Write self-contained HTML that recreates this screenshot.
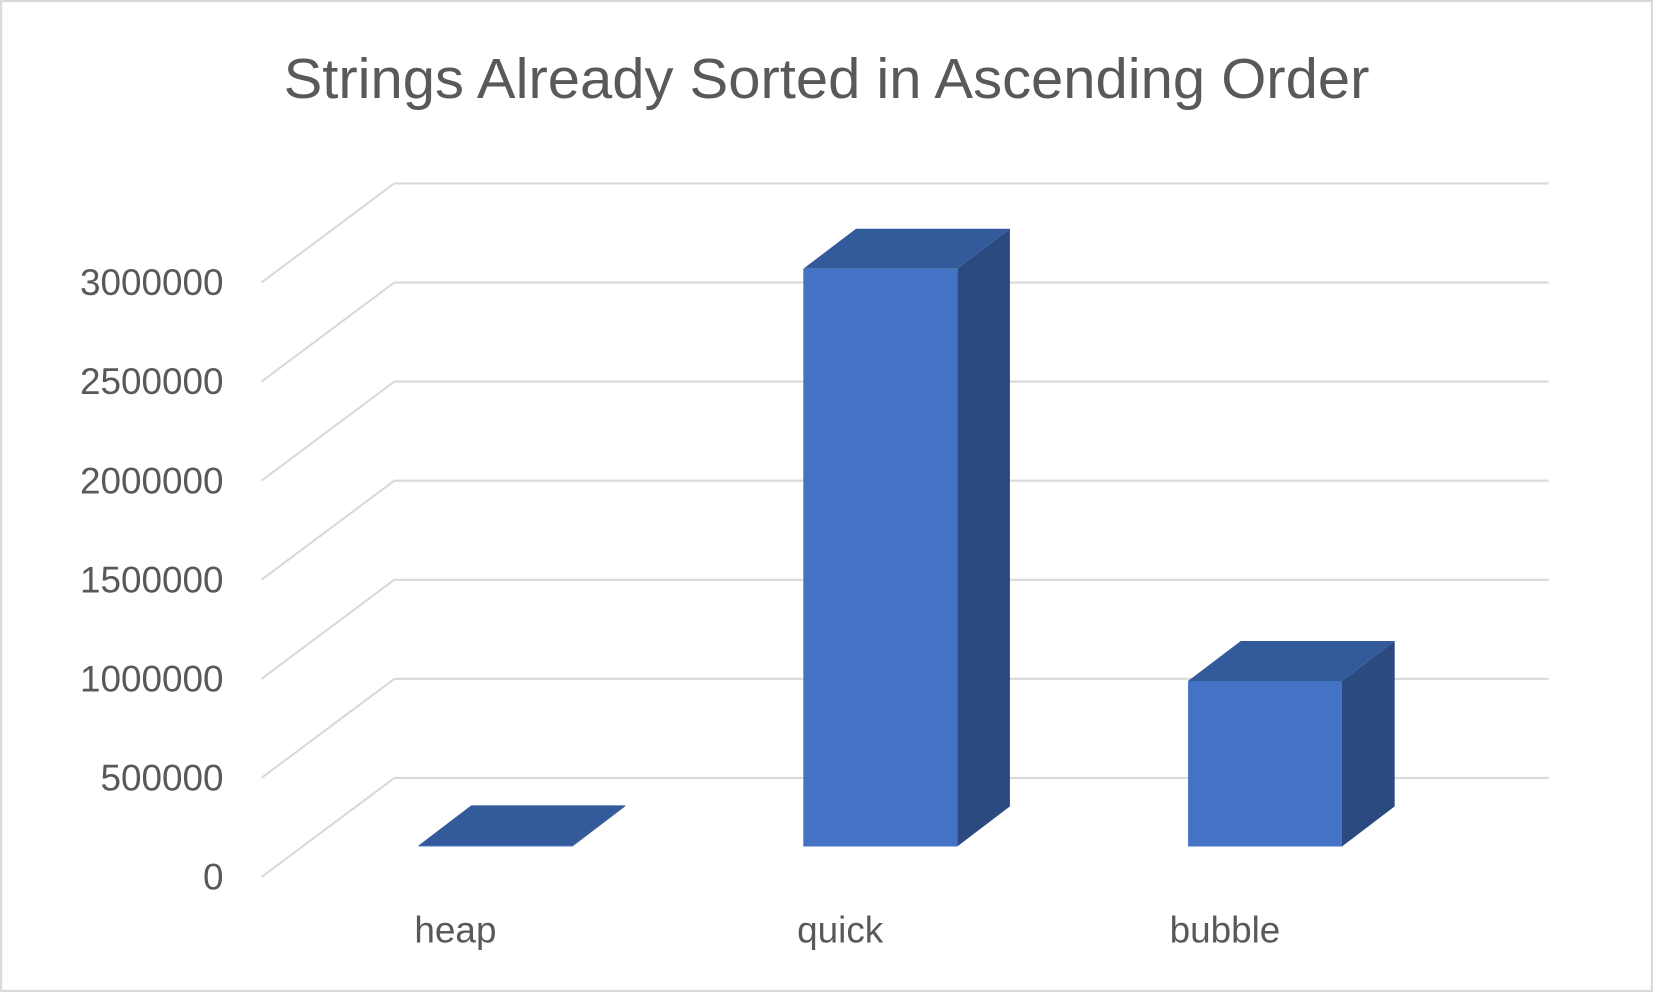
<!DOCTYPE html>
<html><head><meta charset="utf-8"><style>
html,body{margin:0;padding:0;background:#fff;}
svg{display:block;}
text{font-family:"Liberation Sans",sans-serif;fill:#595959;}
</style></head><body>
<svg id="chart" width="1653" height="993" viewBox="0 0 1568 942" xmlns="http://www.w3.org/2000/svg">
<rect x="1" y="1" width="1566" height="939" fill="#fff" stroke="#d9d9d9" stroke-width="2"/>
<text x="784" y="93" text-anchor="middle" font-size="54" textLength="1030" lengthAdjust="spacingAndGlyphs">Strings Already Sorted in Ascending Order</text>
<g id="grid"></g>
<g id="bars"></g>
<g id="labels"></g>
</svg>
<script>
const categories = ["heap", "quick", "bubble"];
const values = [5000, 2915000, 835000];
const tickValues = [0, 500000, 1000000, 1500000, 2000000, 2500000, 3000000];
const tickLabels = ["0", "500000", "1000000", "1500000", "2000000", "2500000", "3000000"];

const NS = "http://www.w3.org/2000/svg";
const pxPer = 94 / 500000;
function backY(v){ return 738 - v * pxPer; }
function barY(v){ return 803 - v * pxPer; }
function catX(i){ return 397 + i * 365; }
function mk(tag, attrs, parent){ const e = document.createElementNS(NS, tag); for (const k in attrs) e.setAttribute(k, attrs[k]); parent.appendChild(e); return e; }

const grid = document.getElementById('grid');
const labels = document.getElementById('labels');
const bars = document.getElementById('bars');
tickValues.forEach((v, i) => {
  const y = backY(v);
  const g = mk('g', {}, grid);
  
  
  mk('line', {x1: 374, y1: y, x2: 1469, y2: y, stroke: '#d9d9d9', 'stroke-width': 2}, g);
  mk('line', {x1: 248, y1: y + 94, x2: 374, y2: y, stroke: '#d9d9d9', 'stroke-width': 2}, g);
  const t = mk('text', {x: 212, y: y + 94 + 12, 'text-anchor': 'end', 'font-size': 35}, labels);
  t.textContent = tickLabels[i];
  
  
});
const W = 146, DX = 50, DY = -38;
categories.forEach((c, i) => {
  const x = catX(i), yb = 803, yt = barY(values[i]);
  const g = mk('g', {}, bars);
  
  
  mk('polygon', {points: `${x+W},${yt} ${x+W+DX},${yt+DY} ${x+W+DX},${yb+DY} ${x+W},${yb}`, fill: '#2B4A80'}, g);
  mk('polygon', {points: `${x},${yt} ${x+DX},${yt+DY} ${x+W+DX},${yt+DY} ${x+W},${yt}`, fill: '#335A9A'}, g);
  mk('rect', {x: x, y: yt, width: W, height: Math.max(0, yb - yt), fill: '#4472C4'}, g);
  const t = mk('text', {x: x + W/2 - 38, y: 894, 'text-anchor': 'middle', 'font-size': 35}, labels);
  t.textContent = c;
  
  
});
</script>
</body></html>
